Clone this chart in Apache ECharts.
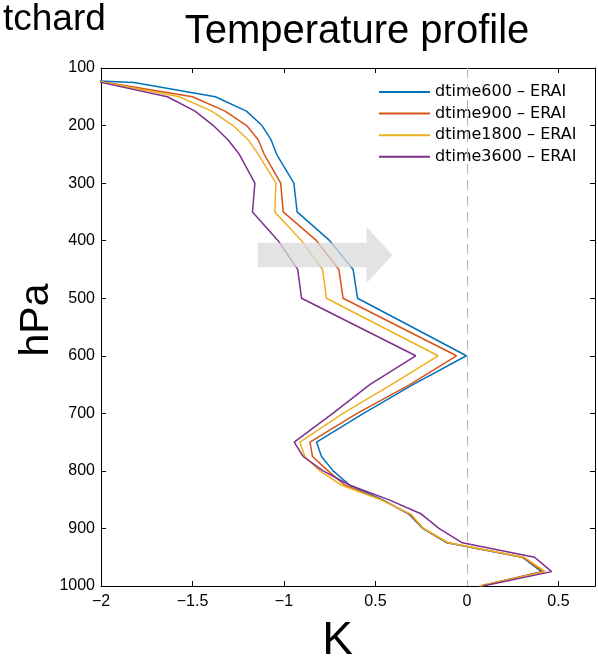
<!DOCTYPE html>
<html>
<head>
<meta charset="utf-8">
<script src="https://cdn.jsdelivr.net/npm/echarts@6/dist/echarts.min.js"></script>
<style>
  html, body { margin: 0; padding: 0; background: #fff; }
  #chart { width: 598px; height: 657px; }
</style>
</head>
<body>
<div id="chart"></div>
<script>
// pressure levels (hPa)
const levels = [100, 125, 150, 175, 200, 225, 250, 300, 350, 400, 450, 500, 550, 600,
  650, 700, 750, 775, 800, 825, 850, 875, 900, 925, 950, 975, 1000]

// temperature difference to ERAI (K)
const dtime600 = [-3.6, -1.82, -1.375, -1.205, -1.12, -1.07, -1.04, -0.946, -0.928, -0.75, -0.622, -0.598, -0.30, -0.003,
  -0.295, -0.565, -0.822, -0.795, -0.731, -0.64, -0.462, -0.318, -0.242, -0.109, 0.302, 0.408, 0.076]
const dtime900 = [-2.5, -1.97, -1.50, -1.322, -1.204, -1.14, -1.108, -1.018, -1.004, -0.822, -0.70, -0.677, -0.367, -0.057,
  -0.312, -0.60, -0.858, -0.844, -0.759, -0.667, -0.468, -0.312, -0.24, -0.104, 0.305, 0.418, 0.07]
const dtime1800 = [-2.3, -1.98, -1.572, -1.395, -1.278, -1.195, -1.14, -1.044, -1.05, -0.904, -0.789, -0.768, -0.463, -0.158,
  -0.413, -0.677, -0.913, -0.886, -0.804, -0.685, -0.473, -0.307, -0.237, -0.10, 0.312, 0.428, 0.068]
const dtime3600 = [-2.2, -2.0, -1.637, -1.486, -1.386, -1.305, -1.244, -1.159, -1.172, -1.032, -0.925, -0.904, -0.592, -0.28,
  -0.531, -0.733, -0.944, -0.895, -0.786, -0.64, -0.428, -0.249, -0.153, -0.025, 0.37, 0.463, 0.088]

const seriesNames = ['dtime600 – ERAI', 'dtime900 – ERAI', 'dtime1800 – ERAI', 'dtime3600 – ERAI']
const seriesValues = [dtime600, dtime900, dtime1800, dtime3600]
const colors = ['#0072BD', '#D95319', '#EDB120', '#7E2F8E']

const xTickValues = [-2, -1.5, -1, -0.5, 0, 0.5]
const xTickLabels = ['−2', '−1.5', '−1', '0.5', '0', '0.5']

// grey arrow annotation, in data units
const arrowX = [-1.144, -0.549, -0.549, -0.407, -0.549, -0.549, -1.144]
const arrowP = [403.5, 403.5, 375.7, 424.9, 474, 446.3, 446.3]

const FONT = '"Liberation Sans", Helvetica, Arial, sans-serif'
const LEGEND_FONT = '"DejaVu Sans", Verdana, sans-serif'

const chart = echarts.init(document.getElementById('chart'))

function xLabel(v) {
  for (let i = 0; i < xTickValues.length; i++)
    if (Math.abs(xTickValues[i] - v) < 1e-6) return xTickLabels[i]
  return ''
}

const frameLine = { show: true, onZero: false, lineStyle: { color: '#000', width: 1 } }
const innerTick = { show: true, inside: true, length: 5, lineStyle: { color: '#000', width: 1 } }

const series = seriesValues.map((vals, i) => ({
  name: seriesNames[i],
  type: 'line',
  xAxisIndex: 0,
  yAxisIndex: 0,
  symbol: 'none',
  clip: true,
  z: 3,
  lineStyle: { color: colors[i], width: 1.5 },
  itemStyle: { color: colors[i] },
  data: levels.map((p, k) => [vals[k], p])
}))

series[0].markLine = {
  silent: true,
  symbol: ['none', 'none'],
  label: { show: false },
  lineStyle: { color: '#b4b4b4', type: [10, 6], width: 1 },
  data: [{ xAxis: 0 }]
}

chart.setOption({
  animation: false,
  textStyle: { fontFamily: FONT },
  grid: { left: 101, right: 2, top: 68, bottom: 71 },
  legend: {
    orient: 'vertical',
    left: 370,
    top: 78,
    padding: [6, 8, 5, 8],
    itemWidth: 51,
    itemHeight: 14,
    itemGap: 5.6,
    backgroundColor: '#fff',
    itemStyle: { opacity: 0 },
    textStyle: { fontSize: 16, color: '#000', fontFamily: LEGEND_FONT },
    data: seriesNames
  },
  xAxis: [
    {
      type: 'value', position: 'bottom', min: -2, max: 0.7, interval: 0.5,
      axisLine: frameLine, axisTick: innerTick, splitLine: { show: false },
      axisLabel: { formatter: xLabel, color: '#000', fontSize: 16, margin: 8, fontFamily: FONT }
    },
    {
      type: 'value', position: 'top', min: -2, max: 0.7, interval: 0.5,
      axisLine: frameLine, axisTick: innerTick, splitLine: { show: false },
      axisLabel: { show: false }
    }
  ],
  yAxis: [
    {
      type: 'value', position: 'left', inverse: true, min: 100, max: 1000, interval: 100,
      axisLine: frameLine, axisTick: innerTick, splitLine: { show: false },
      axisLabel: { formatter: v => String(v), color: '#000', fontSize: 16, margin: 6, fontFamily: FONT }
    },
    {
      type: 'value', position: 'right', inverse: true, min: 100, max: 1000, interval: 100,
      axisLine: frameLine, axisTick: innerTick, splitLine: { show: false },
      axisLabel: { show: false }
    }
  ],
  series: series
})

const arrowPts = arrowX.map((x, i) => chart.convertToPixel({ xAxisIndex: 0, yAxisIndex: 0 }, [x, arrowP[i]]))

chart.setOption({
  graphic: [
    {
      type: 'polygon', z: 100, silent: true,
      shape: { points: arrowPts },
      style: { fill: '#dadada', opacity: 0.75 }
    },
    {
      type: 'text', z: 100, x: 3, y: 1,
      style: { text: 'tchard', font: '37px ' + FONT, fill: '#000', verticalAlign: 'top' }
    },
    {
      type: 'text', z: 100, x: 357, y: 12,
      style: { text: 'Temperature profile', font: '40px ' + FONT, fill: '#000', align: 'center', verticalAlign: 'top' }
    },
    {
      type: 'text', z: 100, x: 37, y: 320, rotation: Math.PI / 2,
      style: { text: 'hPa', font: '41px ' + FONT, fill: '#000', align: 'center', verticalAlign: 'middle' }
    },
    {
      type: 'text', z: 100, x: 337.5, y: 618,
      style: { text: 'K', font: '46px ' + FONT, fill: '#000', align: 'center', verticalAlign: 'top' }
    }
  ]
})
</script>
</body>
</html>
